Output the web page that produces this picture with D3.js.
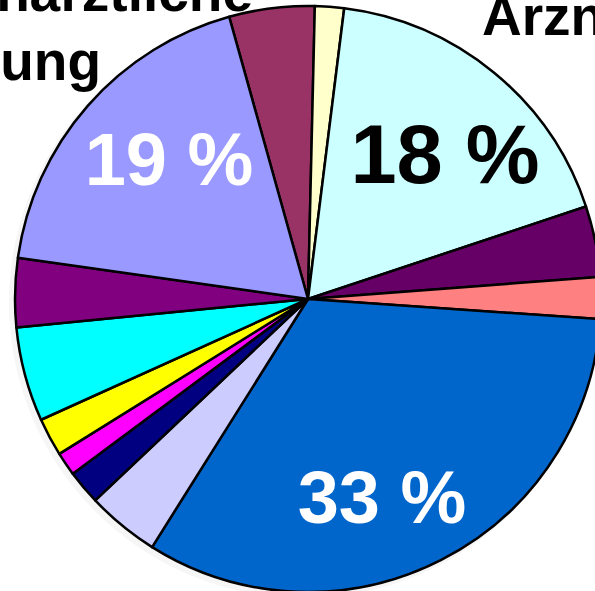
<!DOCTYPE html>
<html>
<head>
<meta charset="utf-8">
<script src="https://cdn.jsdelivr.net/npm/d3@7"></script>
<style>
  body { margin: 0; background: #fff; }
  svg { display: block; }
  text { font-family: "Liberation Sans", Arial, sans-serif; font-weight: bold; }
</style>
</head>
<body>
<script>
// slices, clockwise from the maroon one at the top
var categories = ["A", "B", "C", "D", "E", "F", "G", "H", "I", "J", "K", "L", "M"];
var values = [4.7, 1.6, 17.9, 3.9, 2.3, 32.8, 4.0, 1.9, 1.3, 2.1, 5.2, 3.8, 18.4];
var colors = ["#993366", "#FFFFCC", "#CCFFFF", "#660066", "#FF8080", "#0066CC",
              "#CCCCFF", "#000080", "#FF00FF", "#FFFF00", "#00FFFF", "#800080", "#9999FF"];
var pctLabels = ["18 %", "19 %", "33 %"];

var width = 595, height = 591;
var cx = 308, cy = 299, radius = 293;
var start = -15.6 * Math.PI / 180;

var svg = d3.select("body").append("svg")
    .attr("width", width)
    .attr("height", height);

var data = categories.map(function(c, i) { return { cat: c, value: values[i], color: colors[i] }; });

var pie = d3.pie()
    .sort(null)
    .value(function(d) { return d.value; })
    .startAngle(start)
    .endAngle(start + 2 * Math.PI);

var arc = d3.arc().innerRadius(0).outerRadius(radius);

// faint shadow behind the pie
svg.append("circle")
    .attr("cx", cx - 4)
    .attr("cy", cy + 4)
    .attr("r", radius + 2)
    .style("fill", "#f6f6f6");

var g = svg.append("g").attr("transform", "translate(" + cx + "," + cy + ")");

g.selectAll("path")
    .data(pie(data))
    .enter().append("path")
    .attr("d", arc)
    .style("fill", function(d) { return d.data.color; })
    .style("stroke", "#000")
    .style("stroke-width", 2.5)
    .style("stroke-linejoin", "round");

// percent labels
var labelSpec = [
    { text: pctLabels[0], x: 445, y: 183, size: 83, fill: "#000" },
    { text: pctLabels[1], x: 169, y: 185, size: 74, fill: "#fff" },
    { text: pctLabels[2], x: 382, y: 523, size: 74, fill: "#fff" }
];
svg.selectAll(".pct")
    .data(labelSpec)
    .enter().append("text")
    .attr("class", "pct")
    .attr("x", function(d) { return d.x; })
    .attr("y", function(d) { return d.y; })
    .style("text-anchor", "middle")
    .style("font-size", function(d) { return d.size + "px"; })
    .style("fill", function(d) { return d.fill; })
    .text(function(d) { return d.text; });

// category captions, cut off by the picture edge as in the original
svg.append("text")
    .attr("x", 253).attr("y", 11)
    .style("text-anchor", "end")
    .style("font-size", "55px")
    .text("Zahnärztliche");
svg.append("text")
    .attr("x", 101).attr("y", 80)
    .style("text-anchor", "end")
    .style("font-size", "55px")
    .text("Behandlung");
svg.append("text")
    .attr("x", 482).attr("y", 35)
    .style("text-anchor", "start")
    .style("font-size", "55px")
    .text("Arzneimittel");
</script>
</body>
</html>
